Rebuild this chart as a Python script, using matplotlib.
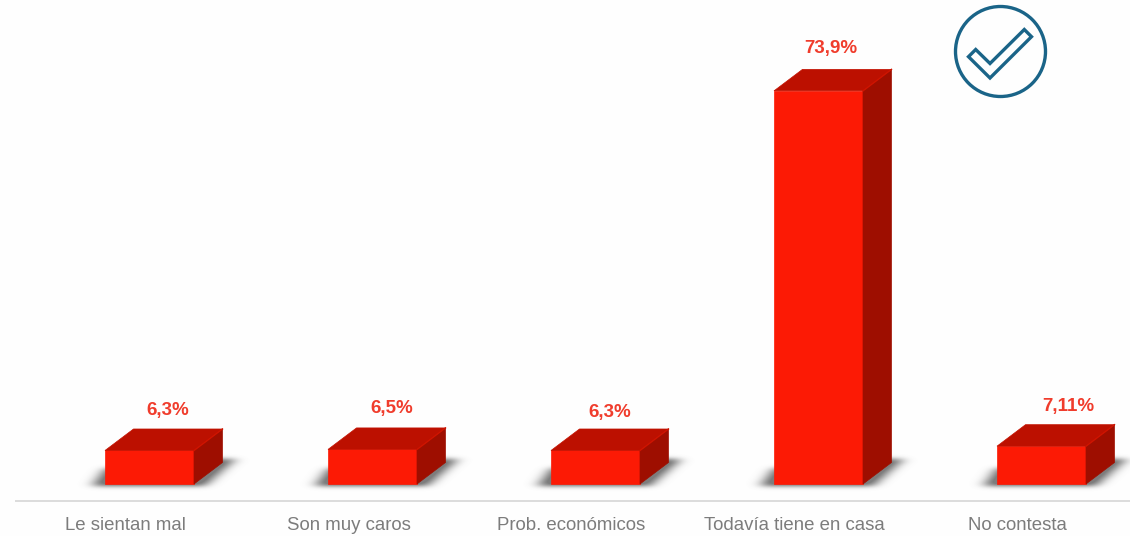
import numpy as np
import matplotlib
matplotlib.use("Agg")
import matplotlib.pyplot as plt
from matplotlib.patches import Circle, Polygon
from matplotlib.path import Path

plt.rcParams['font.family'] = ['Liberation Sans', 'DejaVu Sans']

categories = ["Le sientan mal", "Son muy caros", "Prob. económicos",
              "Todavía tiene en casa", "No contesta"]
values = [6.3, 6.5, 6.3, 73.9, 7.11]
value_labels = ["6,3%", "6,5%", "6,3%", "73,9%", "7,11%"]

# label placement, in pixels relative to the front face of each bar
label_dx = [18.5, 19.5, 14.5, 12.5, 27]
label_dy = [39.5, 40.5, 37.5, 42.5, 39.5]

W, H = 1130, 536
PX_X = 223.0    # pixels per category
PX_Y = 5.32     # pixels per percentage point
X0, Y0 = 149.5, 484.0    # pixel position of first bar centre and of zero

fig = plt.figure(figsize=(W / 100, H / 100), dpi=100, facecolor='#fefefe')
ax = fig.add_axes([0, 0, 1, 1])
xlim = (-X0 / PX_X, (W - X0) / PX_X)
ylim = (-(H - Y0) / PX_Y, Y0 / PX_Y)

half = 44.5 / PX_X
dx = 28.5 / PX_X
dy = 21.5 / PX_Y


def px(x_pixels):
    return x_pixels / PX_X


def py(y_pixels):
    return y_pixels / PX_Y


# floor shadow: rasterise one sheared shape per bar, then blur the mask
# (more sideways than vertically, so the ends fade out slowly)
xs = np.linspace(xlim[0], xlim[1], W)
ys = np.linspace(ylim[1], ylim[0], H)
grid_x, grid_y = np.meshgrid(xs, ys)
grid = np.column_stack([grid_x.ravel(), grid_y.ravel()])
mask = np.zeros(grid_x.shape)
for i in range(len(values)):
    shape = Path([
        (i - half - px(13), py(-2.5)),
        (i + half + px(10), py(-2.5)),
        (i + half + dx + px(13), py(25)),
        (i + half + dx - px(10), py(25)),
        (i - half, py(15)),
    ])
    mask[shape.contains_points(grid).reshape(mask.shape)] = 1.0


def gaussian(sigma):
    kernel = np.exp(-0.5 * (np.arange(-24, 25) / sigma) ** 2)
    return kernel / kernel.sum()


blur = np.apply_along_axis(lambda r: np.convolve(r, gaussian(6.5), mode='same'), 1, mask)
blur = np.apply_along_axis(lambda c: np.convolve(c, gaussian(2.2), mode='same'), 0, blur)
rgba = np.zeros(mask.shape + (4,))
rgba[..., :3] = 0.40
rgba[..., 3] = np.clip(blur * 1.05, 0, 0.85)
ax.imshow(rgba, extent=(xlim[0], xlim[1], ylim[0], ylim[1]), aspect='auto', zorder=1)

ax.set_xlim(*xlim)
ax.set_ylim(*ylim)
ax.axis('off')

for i, (val, lab) in enumerate(zip(values, value_labels)):
    left, right = i - half, i + half

    # front, top and side faces
    ax.add_patch(Polygon([(left, 0), (right, 0), (right, val), (left, val)],
                         closed=True, fc='#fc1a05', ec='#fc1a05', lw=0.5, zorder=3))
    ax.add_patch(Polygon([(left, val), (right, val), (right + dx, val + dy), (left + dx, val + dy)],
                         closed=True, fc='#bc1000', ec='#c41100', lw=0.5, zorder=3))
    ax.add_patch(Polygon([(right, 0), (right + dx, dy), (right + dx, val + dy), (right, val)],
                         closed=True, fc='#9e0e00', ec='#9e0e00', lw=0.5, zorder=3))
    ax.plot([right, right + dx], [val, val + dy], color='#d01400', lw=1.0, zorder=4)

    ax.text(i + px(label_dx[i]), val + py(label_dy[i]), lab, color='#f03c2c',
            fontsize=13.5, fontweight='bold', ha='center', va='center', zorder=5)
    ax.text(i - px(24), py(-46), categories[i], color='#7c7c7c',
            fontsize=13.4, ha='center', va='baseline', zorder=5)

# overlay in pixel coordinates for the rule under the bars and the check mark
over = fig.add_axes([0, 0, 1, 1])
over.set_xlim(0, W)
over.set_ylim(H, 0)
over.axis('off')
over.patch.set_alpha(0)

over.plot([15, W], [501, 501], color='#dcdcdc', lw=1.4, solid_capstyle='butt')

icon = '#1a6488'
over.add_patch(Circle((1000.5, 51.5), 45, fc='none', ec=icon, lw=2.4))
over.add_patch(Polygon([(1024.3, 29.5), (1031.5, 36.7), (990, 78), (968.5, 56.7),
                        (975.7, 49.5), (990, 63.5)],
                       closed=True, fc='none', ec=icon, lw=2.4, joinstyle='miter'))

fig.savefig('out.png', dpi=100, facecolor=fig.get_facecolor())
